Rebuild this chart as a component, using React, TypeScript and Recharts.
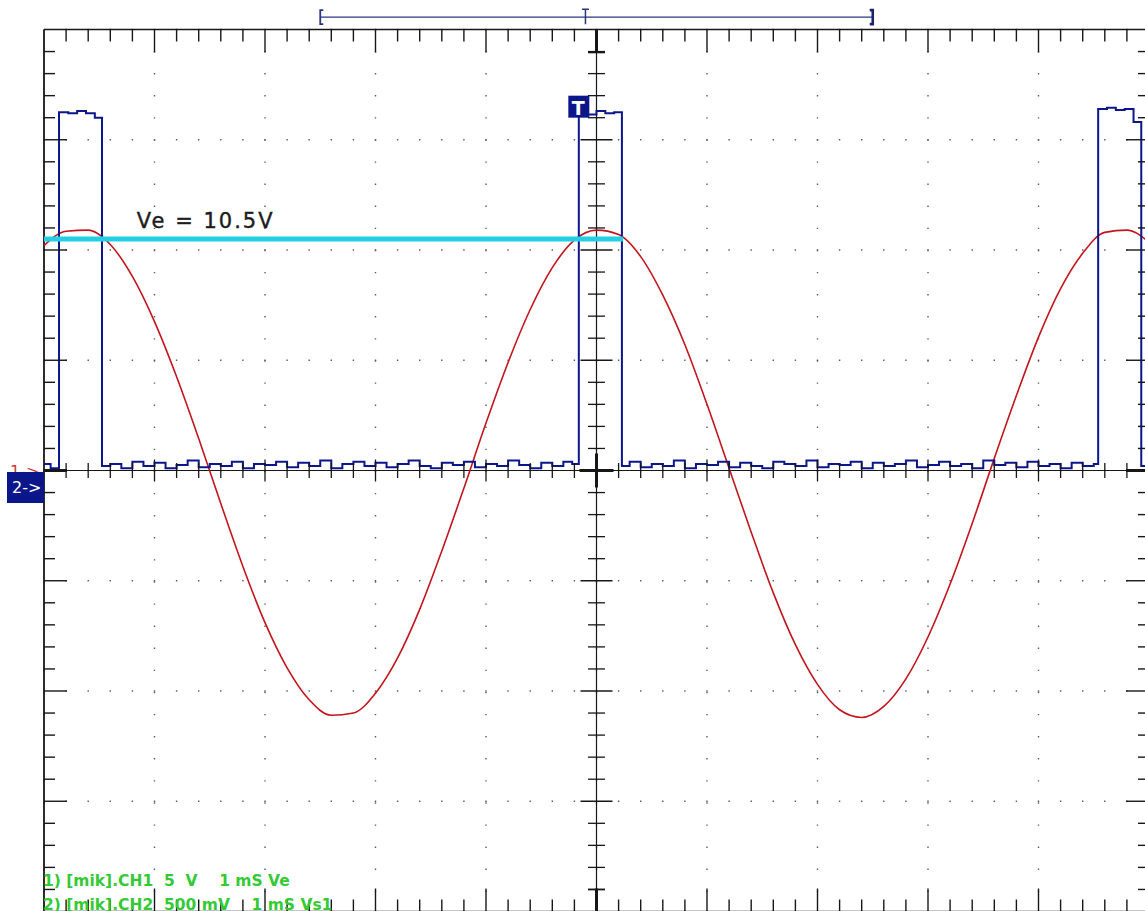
import { LineChart, Line, XAxis, YAxis, CartesianGrid, ReferenceLine, ReferenceDot } from 'recharts';

// CH1 (Ve) 5 V/div, read every 0.2 ms
const ch1Time = [
  0, 0.2, 0.4, 0.6, 0.8, 1, 1.2, 1.4, 1.6, 1.8,
  2, 2.2, 2.4, 2.6, 2.8, 3, 3.2, 3.4, 3.6, 3.8,
  4, 4.2, 4.4, 4.6, 4.8, 5, 5.2, 5.4, 5.6, 5.8,
  6, 6.2, 6.4, 6.6, 6.8, 7, 7.2, 7.4, 7.6, 7.8,
  8, 8.2, 8.4, 8.6, 8.8, 9, 9.2, 9.4, 9.6, 9.8, 10,
];
const ch1Volts = [
  10.2, 10.85, 10.9, 10.25, 8.8, 6.75, 4.25, 1.45, -1.5, -4.35,
  -6.9, -8.95, -10.4, -11.1, -11.0, -10.1, -8.5, -6.3, -3.65, -0.8,
  2.15, 4.9, 7.3, 9.2, 10.45, 10.9, 10.7, 9.7, 7.95, 5.7,
  3.0, 0.1, -2.8, -5.55, -7.9, -9.7, -10.85, -11.2, -10.7, -9.45,
  -7.55, -5.15, -2.4, 0.55, 3.4, 6.05, 8.25, 9.85, 10.8, 10.9, 10.35,
];

// CH2 (Vs1) 500 mV/div
const ch2Time = [
  0, 0.06, 0.136, 0.22, 0.3, 0.38, 0.46, 0.525,
  0.6, 0.7, 0.8, 0.9, 1, 1.1, 1.2, 1.3, 1.4, 1.5,
  1.6, 1.7, 1.8, 1.9, 2, 2.1, 2.2, 2.3, 2.4, 2.5,
  2.6, 2.7, 2.8, 2.9, 3, 3.1, 3.2, 3.3, 3.4, 3.5,
  3.6, 3.7, 3.8, 3.9, 4, 4.1, 4.2, 4.3, 4.4, 4.5,
  4.6, 4.7, 4.78,
  4.84, 4.92, 5, 5.08, 5.16, 5.23,
  5.3, 5.4, 5.5, 5.6, 5.7, 5.8, 5.9, 6, 6.1, 6.2,
  6.3, 6.4, 6.5, 6.6, 6.7, 6.8, 6.9, 7, 7.1, 7.2,
  7.3, 7.4, 7.5, 7.6, 7.7, 7.8, 7.9, 8, 8.1, 8.2,
  8.3, 8.4, 8.5, 8.6, 8.7, 8.8, 8.9, 9, 9.1, 9.2,
  9.3, 9.4, 9.5,
  9.54, 9.62, 9.7, 9.78, 9.86, 9.93, 10,
];
const ch2Volts = [
  0.03, 0.01, 1.625, 1.62, 1.63, 1.62, 1.6, 0.02,
  0.03, 0.01, 0.04, 0.02, 0.035, 0.01, 0.025, 0.045, 0.015, 0.03,
  0.02, 0.04, 0.01, 0.03, 0.025, 0.04, 0.015, 0.035, 0.02, 0.045,
  0.01, 0.03, 0.04, 0.02, 0.035, 0.015, 0.03, 0.045, 0.02, 0.01,
  0.035, 0.025, 0.04, 0.015, 0.03, 0.02, 0.045, 0.025, 0.01, 0.035,
  0.02, 0.04, 0.03,
  1.625, 1.615, 1.63, 1.62, 1.625, 0.02,
  0.04, 0.015, 0.03, 0.02, 0.045, 0.01, 0.03, 0.025, 0.04, 0.015,
  0.035, 0.02, 0.01, 0.04, 0.03, 0.02, 0.045, 0.015, 0.03, 0.025,
  0.04, 0.01, 0.035, 0.02, 0.03, 0.045, 0.015, 0.025, 0.04, 0.02,
  0.03, 0.01, 0.045, 0.025, 0.035, 0.015, 0.04, 0.02, 0.03, 0.01,
  0.035, 0.02, 0.03,
  1.64, 1.645, 1.635, 1.64, 1.58, 0.02, 0.03,
];

const timeMajor = [0, 1, 2, 3, 4, 5, 6, 7, 8, 9, 10];
const ch1Major = [-20, -15, -10, -5, 0, 5, 10, 15, 20];
const timeMinor = Array.from({ length: 51 }, (_, i) => i / 5);
const ch1Minor = Array.from({ length: 41 }, (_, i) => i - 20);

const veLevel = 10.5;
const veEnd = 5.24;
const trigger = { t: 4.84, v: 1.65 };
const window = { from: 2.5, to: 7.5, mid: 4.9, v: 20.56 };

const AXIS = '#171717';
const NAVY = '#0b168a';
const RED = '#c2151d';
const CYAN = '#22cfe3';
const GREEN = '#36c936';

const ch1Data = ch1Time.map((t, i) => ({ t, v: ch1Volts[i] }));
const ch2Data = ch2Time.map((t, i) => ({ t, v: ch2Volts[i] }));

const seg = (x1: number, y1: number, x2: number, y2: number, w = 1.3, c = AXIS) => (p: any) => (
  <line x1={p.cx + x1} y1={p.cy + y1} x2={p.cx + x2} y2={p.cy + y2} stroke={c} strokeWidth={w} />
);

export default function App() {
  const inner = timeMinor.filter((x) => x > 0 && x < 10);
  const innerY = ch1Minor.filter((y) => y > -20 && y < 20);

  return (
    <div style={{ position: 'absolute', left: 0, top: 0, width: 1145, height: 911, overflow: 'hidden', background: '#fff' }}>
      <LineChart width={1150} height={913} margin={{ top: 29.5, right: 1, bottom: 1.5, left: 44 }}>
        <XAxis dataKey="t" type="number" domain={[0, 10]} ticks={timeMajor} hide />
        <YAxis yAxisId="ch1" type="number" domain={[-20, 20]} ticks={ch1Major} hide />
        <YAxis yAxisId="ch2" type="number" domain={[-2, 2]} orientation="right" hide />
        <CartesianGrid yAxisId="ch1" stroke="#5c5c5c" strokeWidth={1.4} strokeDasharray="1.4 20.7" strokeDashoffset={0.7} />

        {/* frame and centre cross */}
        <ReferenceLine yAxisId="ch1" x={0} stroke={AXIS} strokeWidth={1.8} />
        <ReferenceLine yAxisId="ch1" x={10} stroke={AXIS} strokeWidth={1.8} />
        <ReferenceLine yAxisId="ch1" y={20} stroke={AXIS} strokeWidth={1.6} />
        <ReferenceLine yAxisId="ch1" y={-20} stroke={AXIS} strokeWidth={1.6} />
        <ReferenceLine yAxisId="ch1" x={5} stroke={AXIS} strokeWidth={1.2} />
        <ReferenceLine yAxisId="ch1" y={0} stroke={AXIS} strokeWidth={1.2} />

        {inner.map((x) => {
          const major = Number.isInteger(x);
          const len = major ? 23 : 12;
          const w = x === 5 ? 3 : 1.4;
          const h = major ? 11 : 7.5;
          return [
            <ReferenceDot key={`top${x}`} yAxisId="ch1" x={x} y={20} shape={seg(0, 0, 0, len, w)} />,
            <ReferenceDot key={`bot${x}`} yAxisId="ch1" x={x} y={-20} shape={seg(0, 0, 0, -len, w)} />,
            x !== 5 && <ReferenceDot key={`cx${x}`} yAxisId="ch1" x={x} y={0} shape={seg(0, -h, 0, h)} />,
          ];
        })}
        {innerY.map((y) => {
          const major = y % 5 === 0;
          const len = major ? 23 : 11;
          const w = major ? 16 : 8.5;
          return [
            <ReferenceDot key={`l${y}`} yAxisId="ch1" x={0} y={y} shape={seg(0, 0, len, 0, y === 0 ? 3 : 1.4)} />,
            <ReferenceDot key={`r${y}`} yAxisId="ch1" x={10} y={y} shape={seg(0, 0, -len, 0, y === 0 ? 3 : 1.4)} />,
            y !== 0 && <ReferenceDot key={`cy${y}`} yAxisId="ch1" x={5} y={y} shape={seg(-w, 0, w, 0)} />,
          ];
        })}
        <ReferenceDot yAxisId="ch1" x={5} y={20} shape={seg(-8.5, 23, 8.5, 23, 1.6)} />
        <ReferenceDot yAxisId="ch1" x={5} y={-20} shape={seg(-8.5, -22, 8.5, -22, 1.6)} />
        <ReferenceDot
          yAxisId="ch1"
          x={5}
          y={0}
          shape={(p: any) => (
            <g stroke={AXIS} strokeWidth={3}>
              <line x1={p.cx - 17} x2={p.cx + 17} y1={p.cy} y2={p.cy} />
              <line x1={p.cx} x2={p.cx} y1={p.cy - 17} y2={p.cy + 17} />
            </g>
          )}
        />

        <Line
          data={ch1Data}
          dataKey="v"
          yAxisId="ch1"
          type="monotone"
          stroke={RED}
          strokeWidth={1.6}
          dot={false}
          activeDot={false}
          isAnimationActive={false}
        />
        <Line
          data={ch2Data}
          dataKey="v"
          yAxisId="ch2"
          type="stepAfter"
          stroke={NAVY}
          strokeWidth={2}
          dot={false}
          activeDot={false}
          isAnimationActive={false}
        />

        <ReferenceLine
          yAxisId="ch1"
          segment={[{ x: 0, y: veLevel }, { x: veEnd, y: veLevel }]}
          stroke={CYAN}
          strokeWidth={5}
        />
        <ReferenceDot
          yAxisId="ch1"
          x={0.84}
          y={veLevel}
          shape={(p: any) => (
            <text x={p.cx} y={p.cy - 11} fontFamily="DejaVu Sans" fontSize={21} letterSpacing={2} fill="#1c1c1c" stroke="#1c1c1c" strokeWidth={0.4}>
              Ve = 10.5V
            </text>
          )}
        />

        {/* ground markers */}
        <ReferenceDot
          yAxisId="ch1"
          x={0}
          y={0}
          shape={(p: any) => (
            <text x={p.cx - 34} y={p.cy + 6} fontFamily="DejaVu Sans" fontSize={16} fill="#d23a3a">
              1-&gt;
            </text>
          )}
        />
        <ReferenceDot
          yAxisId="ch2"
          x={0}
          y={0}
          shape={(p: any) => (
            <g>
              <rect x={p.cx - 37} y={p.cy + 1.5} width={37} height={31} fill={NAVY} />
              <text x={p.cx - 32} y={p.cy + 22} fontFamily="DejaVu Sans" fontSize={16} fill="#fff">
                2-&gt;
              </text>
            </g>
          )}
        />
        <ReferenceDot
          yAxisId="ch2"
          x={trigger.t}
          y={trigger.v}
          shape={(p: any) => (
            <g>
              <rect x={p.cx - 10.5} y={p.cy - 11} width={21} height={22} fill={NAVY} />
              <text x={p.cx - 0.5} y={p.cy + 8} textAnchor="middle" fontFamily="DejaVu Sans" fontWeight="bold" fontSize={19} fill="#fff">
                T
              </text>
            </g>
          )}
        />

        {/* memory window bracket */}
        <ReferenceLine
          yAxisId="ch1"
          ifOverflow="visible"
          segment={[{ x: window.from, y: window.v }, { x: window.to, y: window.v }]}
          stroke="#2a3580"
          strokeWidth={1.4}
        />
        <ReferenceDot
          yAxisId="ch1"
          ifOverflow="visible"
          x={window.from}
          y={window.v}
          shape={(p: any) => (
            <path d={`M${p.cx + 3},${p.cy - 7} H${p.cx} V${p.cy + 7} H${p.cx + 3}`} fill="none" stroke="#2a3580" strokeWidth={1.8} />
          )}
        />
        <ReferenceDot
          yAxisId="ch1"
          ifOverflow="visible"
          x={window.to}
          y={window.v}
          shape={(p: any) => (
            <path d={`M${p.cx - 3},${p.cy - 7} H${p.cx} V${p.cy + 7} H${p.cx - 3}`} fill="none" stroke="#1a2270" strokeWidth={2.6} />
          )}
        />
        <ReferenceDot
          yAxisId="ch1"
          ifOverflow="visible"
          x={window.mid}
          y={window.v}
          shape={(p: any) => (
            <path d={`M${p.cx - 3.5},${p.cy - 8} H${p.cx + 3.5} M${p.cx},${p.cy - 8} V${p.cy + 7}`} fill="none" stroke="#2a3580" strokeWidth={1.5} />
          )}
        />

        {/* channel settings */}
        <ReferenceDot
          yAxisId="ch1"
          x={0}
          y={-20}
          shape={(p: any) => (
            <g fontFamily="DejaVu Sans" fontWeight="bold" fontSize={15.5} fill={GREEN} style={{ whiteSpace: 'pre' }}>
              <text x={p.cx - 1} y={p.cy - 26} xmlSpace="preserve">1) [mik].CH1  5  V    1 mS Ve</text>
              <text x={p.cx - 1} y={p.cy - 2} xmlSpace="preserve">2) [mik].CH2  500 mV    1 mS Vs1</text>
            </g>
          )}
        />
      </LineChart>
    </div>
  );
}
